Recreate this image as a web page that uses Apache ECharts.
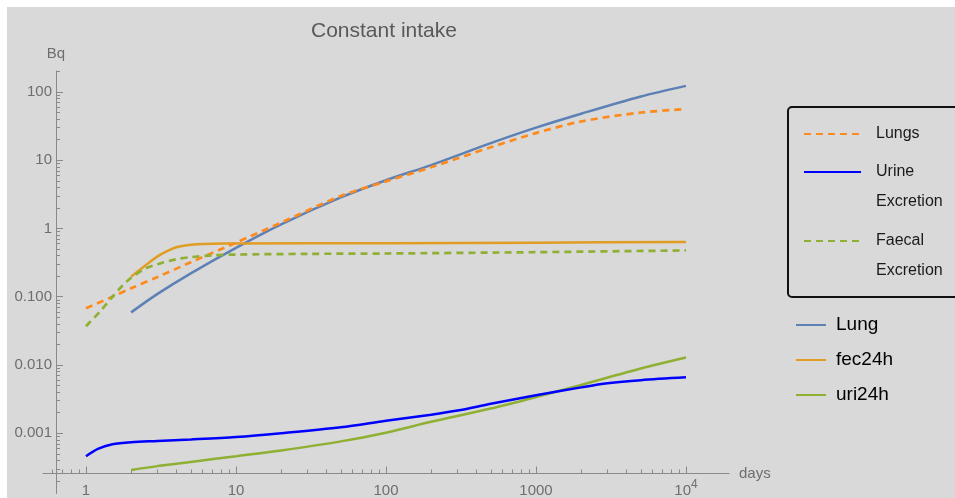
<!DOCTYPE html>
<html><head><meta charset="utf-8">
<script src="https://cdn.jsdelivr.net/npm/echarts@6/dist/echarts.min.js"></script>
<style>
html,body{margin:0;padding:0;background:#fff;}
#bg{position:absolute;left:7px;top:7px;width:948px;height:491px;background:#d9d9d9;}
#c{position:absolute;left:0;top:0;width:955px;height:498px;}
</style>
</head><body><div id="bg"></div><div id="c"></div>
<script>
// ---- data ----
const lungsX = [1, 1.5, 2, 3, 5, 10, 20, 50, 100, 200, 500, 1000, 2000, 5000, 10000];
const lungsY = [0.068, 0.10, 0.133, 0.195, 0.32, 0.62, 1.22, 3.0, 4.9, 7.9, 15.5, 25, 37, 50, 56];

const urineX = [1, 1.2, 1.5, 2, 3, 5, 10, 20, 50, 100, 200, 300, 500, 1000, 2000, 3000, 5000, 10000];
const urineY = [0.00046, 0.00059, 0.00069, 0.00074, 0.00077, 0.00081, 0.00088, 0.00100, 0.00122, 0.00152, 0.00187, 0.00215, 0.0027, 0.0036, 0.0047, 0.0054, 0.0060, 0.0066];

const faecalX = [1, 1.25, 1.5, 1.75, 2, 2.5, 3, 4, 5, 7, 10, 30, 100, 1000, 10000];
const faecalY = [0.037, 0.062, 0.10, 0.145, 0.19, 0.26, 0.30, 0.355, 0.38, 0.405, 0.415, 0.425, 0.43, 0.45, 0.477];

const lungX = [2, 3, 5, 10, 20, 50, 100, 200, 500, 1000, 2000, 5000, 10000];
const lungY = [0.059, 0.11, 0.22, 0.52, 1.15, 2.85, 5.1, 8.5, 17.8, 30, 48, 86, 123];

const fecX = [2, 2.5, 3, 3.5, 4, 4.7, 5.5, 7, 10, 100, 1000, 10000];
const fecY = [0.197, 0.29, 0.39, 0.47, 0.53, 0.57, 0.59, 0.60, 0.605, 0.61, 0.62, 0.635];

const uriX = [2, 3, 5, 10, 20, 50, 100, 200, 500, 1000, 2000, 5000, 10000];
const uriY = [0.00029, 0.00033, 0.00038, 0.00046, 0.00056, 0.00076, 0.00102, 0.00147, 0.0023, 0.0034, 0.0051, 0.0089, 0.0129];

const xMajorTicks = [1, 10, 100, 1000, 10000];
const xMajorLabels = ['1', '10', '100', '1000', '10^4'];
const yMajorTicks = [0.001, 0.01, 0.1, 1, 10, 100];
const yMajorLabels = ['0.001', '0.010', '0.100', '1', '10', '100'];
const xDecades = [0.1, 1, 10, 100, 1000, 10000];
const yDecades = [0.0001, 0.001, 0.01, 0.1, 1, 10, 100];
const minorMultipliers = [2, 3, 4, 5, 6, 7, 8, 9];

const xMin = 0.517, xMax = 19360;
const yMin = 0.000131, yMax = 203;

function minorTicks(decades) {
  const out = [];
  decades.forEach(d => minorMultipliers.forEach(m => out.push(+(d * m).toPrecision(3))));
  return out;
}
const xMinorTicks = minorTicks(xDecades).filter(v => v > xMin && v < xMax);
const yMinorTicks = minorTicks(yDecades).filter(v => v > yMin && v < yMax);

function pairs(xs, ys) { return xs.map((x, i) => [x, ys[i]]); }
function labelFor(v, ticks, labels) {
  let best = 0, bd = Infinity;
  ticks.forEach((t, i) => { const d = Math.abs(Math.log10(v) - Math.log10(t)); if (d < bd) { bd = d; best = i; } });
  return labels[best];
}

const FONT = '"Liberation Sans", Arial, sans-serif';
const AXIS = '#8a8a8a';
const LABEL = '#6e6e6e';

const cOrangeDash = '#ff8a1c';
const cBlue = '#0000ff';
const cGreenDash = '#8fb032';
const cLung = '#5e81b5';
const cFec = '#e19c24';
const cUri = '#8fb032';

const boxLegendText = {fontSize: 16, lineHeight: 30, color: '#1a1a1a', fontFamily: FONT, padding: [0, 0, 0, 10]};
const hiddenSymbol = {opacity: 0};

const chart = echarts.init(document.getElementById('c'), null, {renderer: 'canvas'});
const option = {
  backgroundColor: 'transparent',
  animation: false,
  textStyle: {fontFamily: FONT},
  title: {
    text: 'Constant intake', left: 311, top: 21, padding: 0,
    textStyle: {fontFamily: FONT, fontSize: 21, fontWeight: 'normal', color: '#595959'}
  },
  grid: {left: 43, right: 955 - 729, top: 71, bottom: 3, containLabel: false},
  xAxis: [{
    type: 'log', min: xMin, max: xMax, offset: -20,
    name: 'days', nameLocation: 'end', nameGap: 10,
    nameTextStyle: {color: LABEL, fontSize: 15, fontFamily: FONT, verticalAlign: 'middle'},
    axisLine: {onZero: false, lineStyle: {color: AXIS, width: 1}},
    axisTick: {inside: true, length: 7, lineStyle: {color: AXIS}, customValues: xMajorTicks},
    axisLabel: {
      customValues: xMajorTicks, margin: 5, color: LABEL, fontSize: 15,
      formatter: v => {
        const s = labelFor(v, xMajorTicks, xMajorLabels);
        if (s.indexOf('^') >= 0) { const p = s.split('^'); return '{n|' + p[0] + '}{s|' + p[1] + '}'; }
        return '{n|' + s + '}';
      },
      rich: {
        n: {fontSize: 15, lineHeight: 24, color: LABEL, fontFamily: FONT},
        s: {fontSize: 12, lineHeight: 12, verticalAlign: 'top', color: LABEL, fontFamily: FONT}
      }
    },
    splitLine: {show: false}
  }, {
    type: 'log', min: xMin, max: xMax, offset: -20, position: 'bottom',
    axisLine: {show: false},
    axisTick: {inside: true, length: 4, lineStyle: {color: AXIS}, customValues: xMinorTicks},
    axisLabel: {show: false},
    splitLine: {show: false}
  }],
  yAxis: [{
    type: 'log', min: yMin, max: yMax, offset: -13,
    name: 'Bq', nameLocation: 'end', nameGap: 10,
    nameTextStyle: {color: LABEL, fontSize: 15, fontFamily: FONT},
    axisLine: {onZero: false, lineStyle: {color: AXIS, width: 1}},
    axisTick: {inside: true, length: 7, lineStyle: {color: AXIS}, customValues: yMajorTicks},
    axisLabel: {
      customValues: yMajorTicks, margin: 4, color: LABEL, fontSize: 15, fontFamily: FONT,
      formatter: v => labelFor(v, yMajorTicks, yMajorLabels)
    },
    splitLine: {show: false}
  }, {
    type: 'log', min: yMin, max: yMax, offset: -13, position: 'left',
    axisLine: {show: false},
    axisTick: {inside: true, length: 4, lineStyle: {color: AXIS}, customValues: yMinorTicks},
    axisLabel: {show: false},
    splitLine: {show: false}
  }],
  graphic: [{
    type: 'rect', z: 0,
    shape: {x: 788, y: 107, width: 190, height: 190, r: 4},
    style: {fill: 'none', stroke: '#111', lineWidth: 2}
  }],
  legend: [{
    data: ['Lungs'], left: 803, top: 119, orient: 'vertical', padding: 0,
    itemWidth: 57, itemHeight: 14, itemStyle: hiddenSymbol,
    textStyle: boxLegendText
  }, {
    data: ['Urine Excretion'], left: 803, top: 127, orient: 'vertical', padding: 0,
    itemWidth: 57, itemHeight: 14, itemStyle: hiddenSymbol,
    formatter: n => '\u00a0\n' + n.replace(' ', '\n'),
    textStyle: boxLegendText
  }, {
    data: ['Faecal Excretion'], left: 803, top: 196, orient: 'vertical', padding: 0,
    itemWidth: 57, itemHeight: 14, itemStyle: hiddenSymbol,
    formatter: n => '\u00a0\n' + n.replace(' ', '\n'),
    textStyle: boxLegendText
  }, {
    data: ['Lung', 'fec24h', 'uri24h'], left: 795, top: 315, orient: 'vertical', padding: 0,
    itemWidth: 30, itemHeight: 14, itemGap: 15, itemStyle: hiddenSymbol,
    textStyle: {fontSize: 19, lineHeight: 20, color: '#000', fontFamily: FONT, padding: [0, 0, 0, 5]}
  }],
  series: [
    {name: 'Lung', type: 'line', data: pairs(lungX, lungY), smooth: 0.3, symbol: 'none',
     lineStyle: {color: cLung, width: 2.5}, itemStyle: {color: cLung}},
    {name: 'fec24h', type: 'line', data: pairs(fecX, fecY), smooth: 0.3, symbol: 'none',
     lineStyle: {color: cFec, width: 2.5}, itemStyle: {color: cFec}},
    {name: 'uri24h', type: 'line', data: pairs(uriX, uriY), smooth: 0.3, symbol: 'none',
     lineStyle: {color: cUri, width: 2.5}, itemStyle: {color: cUri}},
    {name: 'Lungs', type: 'line', data: pairs(lungsX, lungsY), smooth: 0.3, symbol: 'none',
     lineStyle: {color: cOrangeDash, width: 2.7, type: [7, 5]}, itemStyle: {color: cOrangeDash}},
    {name: 'Urine Excretion', type: 'line', data: pairs(urineX, urineY), smooth: 0.3, symbol: 'none',
     lineStyle: {color: cBlue, width: 2.5}, itemStyle: {color: cBlue}},
    {name: 'Faecal Excretion', type: 'line', data: pairs(faecalX, faecalY), smooth: 0.3, symbol: 'none',
     lineStyle: {color: cGreenDash, width: 2.7, type: [7, 5]}, itemStyle: {color: cGreenDash}}
  ]
};
chart.setOption(option);
</script></body></html>
